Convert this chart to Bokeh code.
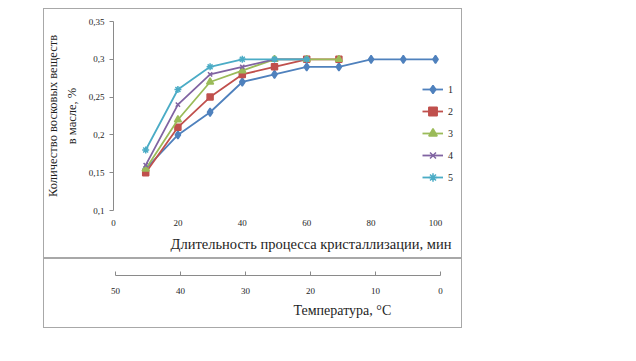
from bokeh.plotting import figure
from bokeh.models import Range1d, FixedTicker, Legend, LegendItem, Title, Spacer
from bokeh.layouts import column, row
from bokeh.embed import file_html
from bokeh.resources import INLINE

# ---- data ----
minutes = [10, 20, 30, 40, 50, 60, 70, 80, 90, 100]
series_names = ["1", "2", "3", "4", "5"]
s1 = [0.155, 0.20, 0.23, 0.27, 0.28, 0.29, 0.29, 0.30, 0.30, 0.30]
s2 = [0.150, 0.21, 0.25, 0.28, 0.29, 0.30, 0.30]
s3 = [0.155, 0.22, 0.27, 0.285, 0.30, 0.30, 0.30]
s4 = [0.160, 0.24, 0.28, 0.29, 0.30, 0.30]
s5 = [0.180, 0.26, 0.29, 0.30, 0.30, 0.30]
y_ticks = [0.1, 0.15, 0.2, 0.25, 0.3, 0.35]
y_tick_labels = ["0,1", "0,15", "0,2", "0,25", "0,3", "0,35"]
x_ticks = [0, 20, 40, 60, 80, 100]
temp_ticks = [0, 10, 20, 30, 40, 50]
y_title_1 = "Количество восковых веществ"
y_title_2 = "в масле, %"
x_title = "Длительность процесса кристаллизации, мин"
temp_title = "Температура, °С"

FONT = "Liberation Serif"
TXT = "#1e1e1e"
AX = "#8a8a8a"
BORDER = "#a8a8a8"
BOX_STYLE = {"outline": "1px solid " + BORDER, "outline-offset": "-1px"}

colors = ["#4F81BD", "#C0504D", "#9BBB59", "#8064A2", "#4BACC6"]
markers = ["diamond", "square", "triangle", "x", "asterisk"]
msizes = [8, 6, 7, 6, 7]

# ---- main chart (box 419 x 250) ----
p = figure(width=419, height=250, x_range=Range1d(0, 107.14), y_range=Range1d(0.1, 0.35),
           output_backend="svg", toolbar_location=None,
           min_border_left=70, min_border_right=4, min_border_top=13, min_border_bottom=48)
p.styles = BOX_STYLE
p.grid.visible = False
p.outline_line_color = None
p.background_fill_color = None
p.border_fill_color = None

yax = p.yaxis[0]
yax.ticker = FixedTicker(ticks=y_ticks)
yax.major_label_overrides = dict(zip(y_ticks, y_tick_labels))
yax.axis_line_color = AX
yax.major_tick_line_color = AX
yax.minor_tick_line_color = None
yax.major_tick_out = 4
yax.major_tick_in = 0
yax.major_label_standoff = 5
yax.major_label_text_font = FONT
yax.major_label_text_font_size = "9px"
yax.major_label_text_color = TXT
# second line of the y title is the axis label, first line is a title beyond it
yax.axis_label = y_title_2
yax.axis_label_standoff = 7
yax.axis_label_text_font = FONT
yax.axis_label_text_font_size = "12.5px"
yax.axis_label_text_font_style = "normal"
yax.axis_label_text_color = TXT

xax = p.xaxis[0]
xax.ticker = FixedTicker(ticks=x_ticks)
xax.bounds = (0, 100)
xax.axis_line_color = None
xax.major_tick_line_color = None
xax.minor_tick_line_color = None
xax.major_label_standoff = 3
xax.major_label_text_font = FONT
xax.major_label_text_font_size = "9px"
xax.major_label_text_color = TXT

all_series = [s1, s2, s3, s4, s5]
items = []
for name, ys, c, m, ms in zip(series_names, all_series, colors, markers, msizes):
    xs = minutes[:len(ys)]
    ln = p.line(xs, ys, line_color=c, line_width=1.8)
    sc = p.scatter(xs, ys, marker=m, size=ms, fill_color=c, line_color=c, line_width=1.5)
    items.append(LegendItem(label=name, renderers=[ln, sc]))

legend = Legend(items=items, location=(309, 22), orientation="vertical",
                glyph_width=21, glyph_height=22, label_height=22, spacing=0,
                padding=0, margin=0, label_standoff=5,
                border_line_color=None, background_fill_alpha=0,
                label_text_font=FONT, label_text_font_size="10px", label_text_color=TXT)
p.add_layout(legend)

p.add_layout(Title(text=y_title_1, align="center", vertical_align="top", standoff=0,
                   text_font=FONT, text_font_size="12.5px", text_font_style="normal",
                   text_color=TXT), "left")
# x title (shifted right, as in the reference)
p.add_layout(Title(text=x_title, align="left", offset=57, standoff=10, text_font=FONT,
                   text_font_size="14.5px", text_font_style="normal", text_color=TXT), "below")

# ---- temperature axis (box 419 x 70) ----
p2 = figure(width=419, height=70, x_range=Range1d(50.31, -2.77), y_range=Range1d(0, 3),
            output_backend="svg", toolbar_location=None, y_axis_location=None,
            min_border_left=70, min_border_right=4, min_border_top=14, min_border_bottom=53)
p2.styles = BOX_STYLE
p2.grid.visible = False
p2.outline_line_color = None
p2.background_fill_color = None
p2.border_fill_color = None
tax = p2.xaxis[0]
tax.ticker = FixedTicker(ticks=temp_ticks)
tax.bounds = (0, 50)
tax.axis_line_color = AX
tax.major_tick_line_color = AX
tax.minor_tick_line_color = None
tax.major_tick_in = 4
tax.major_tick_out = 0
tax.major_label_standoff = 12
tax.major_label_text_font = FONT
tax.major_label_text_font_size = "9px"
tax.major_label_text_color = TXT
p2.add_layout(Title(text=temp_title, align="left", offset=180, standoff=8, text_font=FONT,
                    text_font_size="14px", text_font_style="normal", text_color=TXT), "below")

layout = row(Spacer(width=43), column(Spacer(height=8), p, p2, spacing=0), spacing=0)
open("out.html", "w").write(file_html(layout, INLINE))
